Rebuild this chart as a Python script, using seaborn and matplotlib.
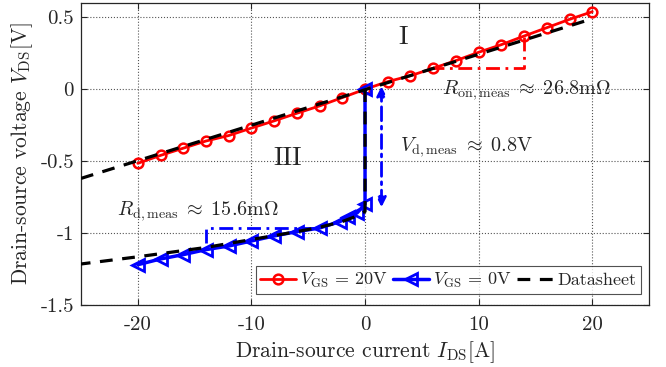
import numpy as np
import pandas as pd
import matplotlib
matplotlib.use("Agg")
import matplotlib.pyplot as plt
import seaborn as sns

# Measured output characteristic, VGS = 20 V (first and third quadrant)
i_on = [-20, -18, -16, -14, -12, -10, -8, -6, -4, -2, 0, 2, 4, 6, 8, 10, 12, 14, 16, 18, 20]
v_on = [-0.515, -0.46, -0.41, -0.36, -0.322, -0.27, -0.22, -0.167, -0.116, -0.058, 0.0,
        0.053, 0.094, 0.146, 0.199, 0.257, 0.31, 0.37, 0.428, 0.486, 0.539]

# Measured body-diode characteristic, VGS = 0 V
i_off = [0, 0, -0.7, -1.5, -2.2, -4, -6, -8, -10, -12, -14, -16, -18, -20]
v_off = [0.0, -0.80, -0.86, -0.89, -0.92, -0.965, -0.99, -1.02, -1.055, -1.09, -1.115,
         -1.15, -1.18, -1.22]

# Datasheet curves: channel conduction and body diode
i_ds_ch = [-25, 20]
v_ds_ch = [-0.62, 0.49]
i_ds_bd = [0, 0, -1, -2, -4, -6, -10, -14, -20, -25]
v_ds_bd = [0.0, -0.85, -0.89, -0.92, -0.96, -0.99, -1.045, -1.10, -1.165, -1.215]

x_ticks = [-20, -10, 0, 10, 20]
x_labels = ["-20", "-10", "0", "10", "20"]
y_ticks = [-1.5, -1, -0.5, 0, 0.5]
y_labels = ["-1.5", "-1", "-0.5", "0", "0.5"]

sns.set_style("ticks")
plt.rcParams["font.family"] = ["serif"]
plt.rcParams["font.serif"] = ["cmr10", "DejaVu Serif"]
plt.rcParams["mathtext.fontset"] = "cm"
plt.rcParams["axes.unicode_minus"] = False

fig = plt.figure(figsize=(6.66, 3.67), dpi=100)
ax = fig.add_axes([0.1216, 0.169, 0.853, 0.823])

df_on = pd.DataFrame({"I": i_on, "V": v_on})
df_off = pd.DataFrame({"I": i_off, "V": v_off})
df_ch = pd.DataFrame({"I": i_ds_ch, "V": v_ds_ch})
df_bd = pd.DataFrame({"I": i_ds_bd, "V": v_ds_bd})

sns.lineplot(data=df_on, x="I", y="V", sort=False, estimator=None, ax=ax,
             color="red", lw=2, marker="o", markersize=7, markerfacecolor="none",
             markeredgecolor="red", markeredgewidth=1.8,
             label=r"$V_{\rm GS}$ = 20V", zorder=3)
sns.lineplot(data=df_off, x="I", y="V", sort=False, estimator=None, ax=ax,
             color="blue", lw=2.5, marker="<", markersize=8, markerfacecolor="none",
             markeredgecolor="blue", markeredgewidth=2,
             label=r"$V_{\rm GS}$ = 0V", zorder=3)
sns.lineplot(data=df_ch, x="I", y="V", sort=False, estimator=None, ax=ax,
             color="black", lw=2.3, linestyle=(0, (4, 3)),
             label="Datasheet", zorder=4)
sns.lineplot(data=df_bd, x="I", y="V", sort=False, estimator=None, ax=ax,
             color="black", lw=2.3, linestyle=(0, (4, 3)), zorder=4)

# Slope construction for R_on
ax.plot([5.7, 14, 14], [0.146, 0.146, 0.37], color="red", lw=2,
        linestyle=(0, (5, 2, 1, 2)), zorder=2)
ax.text(6.8, -0.005, r"$R_{\rm on,meas}\;\approx\;26.8{\rm m}\Omega$", fontsize=14.5,
        va="center", ha="left")

# Slope construction for R_d
ax.plot([-4.3, -14, -14], [-0.965, -0.965, -1.116], color="blue", lw=2,
        linestyle=(0, (5, 2, 1, 2)), zorder=2)
ax.text(-21.8, -0.85, r"$R_{\rm d,meas}\;\approx\;15.6{\rm m}\Omega$", fontsize=14.5,
        va="center", ha="left")

# Diode voltage drop arrow
ax.annotate("", xy=(1.45, 0.02), xytext=(1.45, -0.82),
            arrowprops=dict(arrowstyle="<|-|>", color="blue", lw=2,
                            linestyle=(0, (5, 2, 1, 2)), mutation_scale=14,
                            shrinkA=0, shrinkB=0))
ax.text(3.05, -0.40, r"$V_{\rm d,meas}\;\approx\;0.8{\rm V}$", fontsize=14.5,
        va="center", ha="left")

# Quadrant labels
ax.text(2.9, 0.36, "I", fontsize=19, va="center", ha="left")
ax.text(-8.1, -0.48, "III", fontsize=19, va="center", ha="left")

ax.set_xlim(-25, 25)
ax.set_ylim(-1.5, 0.6)
ax.set_xticks(x_ticks)
ax.set_xticklabels(x_labels)
ax.set_yticks(y_ticks)
ax.set_yticklabels(y_labels)
ax.tick_params(direction="in", top=True, right=True, length=4, labelsize=15,
               width=0.8, colors="#262626", pad=5)
ax.tick_params(axis="x", pad=8)
ax.grid(True, linestyle=":", color="#555555", lw=0.8)
for s in ax.spines.values():
    s.set_color("#262626")
    s.set_linewidth(0.9)

ax.set_xlabel(r"Drain-source current $I_{\rm DS}$[A]", fontsize=15.5, color="#262626",
              labelpad=4)
ax.set_ylabel(r"Drain-source voltage $V_{\rm DS}$[V]", fontsize=15.5, color="#262626",
              labelpad=4)

leg = ax.legend(loc="lower right", bbox_to_anchor=(0.985, 0.035), borderaxespad=0,
                ncol=3, fontsize=13, frameon=True, fancybox=False,
                handlelength=2.0, handletextpad=0.2, columnspacing=0.3,
                borderpad=0.25)
leg.get_frame().set_edgecolor("#262626")
leg.get_frame().set_linewidth(0.8)

fig.savefig("out.png", dpi=100)
